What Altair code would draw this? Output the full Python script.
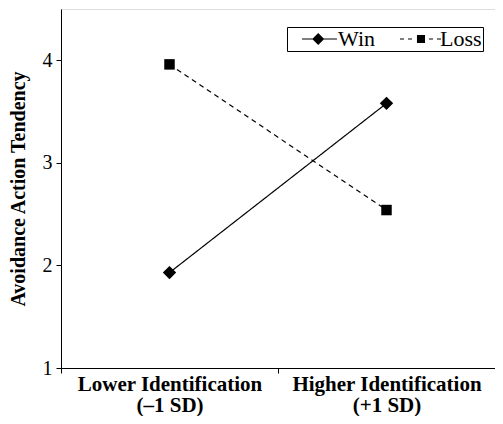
import altair as alt
import pandas as pd

# ---- data ----
categories = ["Lower Identification", "Higher Identification"]
category_sublabels = ["(–1 SD)", "(+1 SD)"]
series_names = ["Win", "Loss"]
win_values = [1.93, 3.58]
loss_values = [3.96, 2.54]
y_ticks = [1, 2, 3, 4]
y_domain = [1, 4.5]

rows = []
for i, c in enumerate(categories):
    rows.append({"cat": c, "pos": i + 0.5, "series": "Win", "value": win_values[i]})
    rows.append({"cat": c, "pos": i + 0.5, "series": "Loss", "value": loss_values[i]})
df = pd.DataFrame(rows)

FONT = "Liberation Serif"

# x-axis: ticks at category boundaries, labels at category centres
tick_vals = [0, 0.5, 1, 1.5, 2]
label_expr = " : ".join(
    f"datum.value == {i + 0.5} ? ['{categories[i]}', '{category_sublabels[i]}']"
    for i in range(len(categories))
) + " : ''"

x_enc = alt.X(
    "pos:Q",
    scale=alt.Scale(domain=[0, len(categories)], nice=False, zero=False),
    axis=alt.Axis(
        values=tick_vals,
        labelExpr=label_expr,
        title=None,
        grid=False,
        domainColor="black",
        tickColor="black",
        tickOpacity={"condition": {"test": "datum.value % 1 === 0", "value": 1}, "value": 0},
        tickSize=5,
        labelFont=FONT,
        labelFontSize=21,
        labelFontWeight="bold",
        labelColor="black",
        labelLineHeight=21,
        labelPadding=0,
        labelFlush=False,
        labelOverlap=False,
        labelBound=False,
        labelLimit=0,
    ),
)
y_enc = alt.Y(
    "value:Q",
    scale=alt.Scale(domain=y_domain, nice=False, zero=False),
    axis=alt.Axis(
        values=y_ticks,
        format="d",
        title="Avoidance Action Tendency",
        grid=False,
        domainColor="black",
        tickColor="black",
        tickSize=5,
        labelFont=FONT,
        labelFontSize=20,
        labelColor="black",
        labelPadding=4,
        titleFont=FONT,
        titleFontSize=20,
        titleFontWeight="bold",
        titleColor="black",
        titlePadding=14,
    ),
)

base = alt.Chart(df)

lines = base.mark_line(color="black", strokeWidth=1.2).encode(
    x=x_enc,
    y=y_enc,
    detail="series:N",
    strokeDash=alt.StrokeDash(
        "series:N",
        scale=alt.Scale(domain=series_names, range=[[1, 0], [5, 4]]),
        legend=None,
    ),
)

points = base.mark_point(filled=True, color="black", opacity=1).encode(
    x=alt.X("pos:Q"),
    y=alt.Y("value:Q"),
    shape=alt.Shape(
        "series:N",
        scale=alt.Scale(domain=series_names, range=["diamond", "square"]),
        legend=None,
    ),
    size=alt.Size(
        "series:N",
        scale=alt.Scale(domain=series_names, range=[180, 110]),
        legend=None,
    ),
)


# legend symbols: line (as thin filled bars) + marker, as custom symbol paths
def bar(x0, x1, h=0.09):
    return f"M{x0},{-h}L{x1},{-h}L{x1},{h}L{x0},{h}Z"


win_path = bar(0.5, 6.33) + "M3.2,-1L4.2,0L3.2,1L2.2,0Z"
loss_path = (
    bar(-0.17, 0.5) + bar(1.17, 1.83)
    + "M2.66,-0.67L4.0,-0.67L4.0,0.67L2.66,0.67Z"
    + bar(4.67, 5.33) + bar(6.0, 6.67)
)

legend_layer = base.mark_point(filled=True, color="black", opacity=0).encode(
    x=alt.X("pos:Q"),
    y=alt.Y("value:Q"),
    shape=alt.Shape(
        "series:N",
        scale=alt.Scale(domain=series_names, range=[win_path, loss_path]),
        legend=alt.Legend(
            title=None,
            orient="none",
            legendX=226,
            legendY=18,
            direction="horizontal",
            padding=1,
            strokeColor="black",
            fillColor="white",
            cornerRadius=0,
            symbolSize=144,
            symbolFillColor="black",
            symbolStrokeWidth=0,
            symbolOpacity=1,
            labelFont=FONT,
            labelFontSize=22,
            labelColor="black",
            labelOffset=28,
            columnPadding=15,
        ),
    ),
)

chart = (
    alt.layer(lines, points, legend_layer)
    .resolve_scale(shape="independent", strokeDash="independent", size="independent")
    .properties(
        width=434,
        height=359,
        autosize=alt.AutoSizeParams(type="none"),
        padding={"left": 53, "top": 1, "right": 0, "bottom": 48},
    )
    .configure_view(stroke="black", strokeWidth=1)
    .configure(background="white")
)

chart.save("out.html", embed_options={"renderer": "svg", "actions": False})
